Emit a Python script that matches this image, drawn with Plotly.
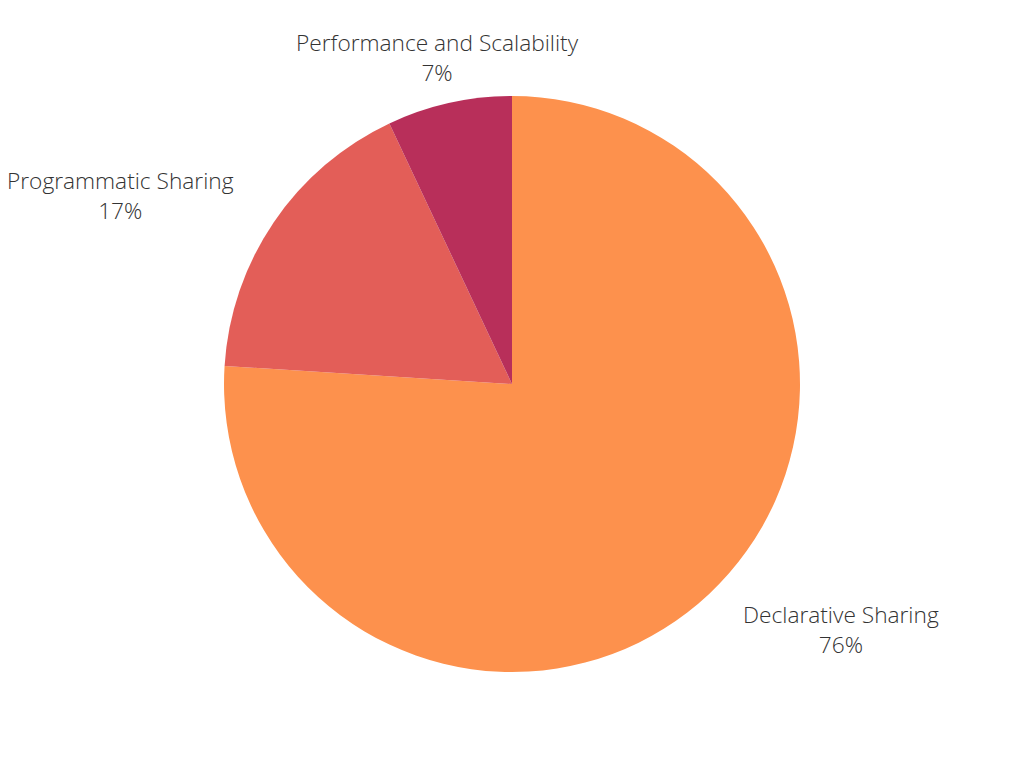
import plotly.graph_objects as go

labels = ["Declarative Sharing", "Programmatic Sharing", "Performance and Scalability"]
values = [76, 17, 7]
colors = ["#FD914D", "#E35E58", "#B82F5A"]

# label placement (paper coordinates) for each slice's outside label
label_pos = [(0.8130, 0.1908), (0.1099, 0.7559), (0.4199, 0.9356)]

fig = go.Figure(go.Pie(
    labels=labels,
    values=values,
    sort=False,
    direction="clockwise",
    rotation=0,
    marker=dict(colors=colors, line=dict(width=0)),
    textinfo="none",
    showlegend=False,
    hoverinfo="label+percent",
    domain=dict(x=[0.21094, 0.77344], y=[0.1354, 0.8854]),
))

total = sum(values)
for lab, val, (px, py) in zip(labels, values, label_pos):
    fig.add_annotation(
        x=px, y=py, xref="paper", yref="paper",
        text=f"{lab}<br>{round(100 * val / total)}%",
        showarrow=False, xanchor="center", yanchor="middle",
        font=dict(family="Open Sans", size=22.7, color="#333333", weight=300),
        align="center",
    )

fig.update_layout(
    width=1024, height=768,
    margin=dict(l=0, r=0, t=0, b=0),
    paper_bgcolor="white",
)
fig.write_html("out.html")
